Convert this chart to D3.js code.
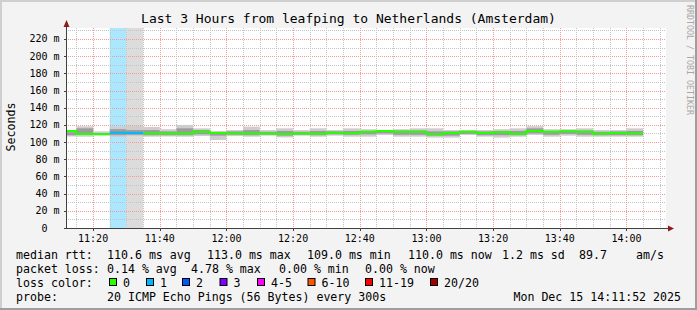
<!DOCTYPE html>
<html>
<head>
<meta charset="utf-8">
<script src="https://cdn.jsdelivr.net/npm/d3@7"></script>
<style>
  html, body { margin: 0; padding: 0; background: #f3f3f3; }
  svg text { font-family: "DejaVu Sans Mono", monospace; fill: #000; }
</style>
</head>
<body>
<svg id="svg-smoke" width="697" height="310"></svg>
<script>
// ---- data ----
var title = "Last 3 Hours from leafping to Netherlands (Amsterdam)";
var yLabel = "Seconds";
var rangeStart = new Date(2025, 11, 15, 11, 11, 52);
var rangeEnd = new Date(2025, 11, 15, 14, 11, 52);
var firstStep = new Date(2025, 11, 15, 11, 10, 0); // 5 min steps
var stepMinutes = 5;

// median rtt per 5 min step (ms)
var medianMs = [113.0, 109.4, 109.0, 111.0, 110.5, 110.0, 110.0, 110.0, 112.0, 110.6,
                110.0, 110.0, 110.0, 109.5, 110.0, 109.8, 110.8, 110.3, 112.0, 113.0,
                112.0, 112.0, 109.0, 110.5, 112.0, 110.5, 111.5, 109.6, 112.8, 112.0,
                112.7, 112.0, 109.6, 110.5, 110.0];
// outer smoke (min / max ping)
var smokeHi = [114.0, 118.4, 112.5, 118.0, 119.0, 117.6, 115.0, 120.0, 116.0, 113.0,
               114.0, 118.0, 114.0, 116.0, 114.0, 116.0, 114.0, 116.0, 115.0, 114.0,
               115.0, 116.0, 116.0, 114.0, 114.0, 114.0, 115.0, 116.0, 118.5, 115.0,
               115.0, 116.0, 114.0, 114.0, 116.0];
var smokeLo = [106.5, 106.3, 107.8, 106.0, 107.0, 106.3, 106.5, 106.3, 107.0, 102.4,
               107.0, 106.3, 107.5, 105.5, 107.5, 106.3, 107.5, 106.3, 106.3, 108.3,
               106.3, 106.3, 105.2, 105.2, 108.3, 106.3, 105.2, 106.3, 108.3, 106.3,
               107.5, 106.3, 106.3, 106.3, 106.3];
// denser inner smoke
var coreHi = [111.5, 116.0, 110.5, 115.0, 114.0, 114.0, 112.5, 116.0, 114.0, 111.5,
              112.5, 114.0, 112.0, 113.0, 112.0, 113.0, 112.5, 113.0, 113.0, 113.5,
              113.5, 113.5, 112.5, 112.5, 113.0, 112.5, 113.0, 113.0, 116.0, 113.0,
              113.5, 113.5, 112.0, 112.5, 113.0];
var coreLo = [108.0, 108.5, 108.5, 108.0, 108.5, 108.0, 108.0, 108.0, 109.0, 107.5,
              108.5, 108.0, 108.5, 107.5, 108.5, 108.0, 109.0, 108.5, 109.0, 110.0,
              108.5, 108.5, 107.5, 107.5, 109.5, 108.0, 108.0, 108.0, 110.0, 108.5,
              109.5, 108.5, 108.0, 108.0, 108.0];
// lost pings per step (of 20)
var lossCount = [0, 0, 0, 1, 1, 0, 0, 0, 0, 0, 0, 0, 0, 0, 0, 0, 0, 0, 0, 0,
                 0, 0, 0, 0, 0, 0, 0, 0, 0, 0, 0, 0, 0, 0, 0];
var unknownSteps = [4];

var yTicks = [0, 20, 40, 60, 80, 100, 120, 140, 160, 180, 200, 220];
var yMax = 232.8;

var lossLabels = ["0", "1", "2", "3", "4-5", "6-10", "11-19", "20/20"];
var lossUpper = [0, 1, 2, 3, 5, 10, 19, 20];
var lossColors = ["#26ff00", "#00b8ff", "#0059ff", "#7e00ff", "#ff00ff", "#ff5500", "#ff0000", "#a00000"];

var rttStats = ["110.6 ms avg", "113.0 ms max", "109.0 ms min", "110.0 ms now", "1.2 ms sd", "89.7", "am/s"];
var lossStats = ["0.14 % avg", "4.78 % max", "0.00 % min", "0.00 % now"];
var probeText = "20 ICMP Echo Pings (56 Bytes) every 300s";
var stampText = "Mon Dec 15 14:11:52 2025";

// ---- layout ----
var svg = d3.select("#svg-smoke");
var W = 697, H = 310;
var dim = { left: 66, right: 666, top: 28, bottom: 228 };

var xScale = d3.scaleTime().domain([rangeStart, rangeEnd]).range([dim.left, dim.right]);
var yScale = d3.scaleLinear().domain([0, yMax]).range([dim.bottom, dim.top]);

// frame
svg.append("rect").attr("x", 0).attr("y", 0).attr("width", W).attr("height", H).attr("fill", "#f3f3f3");
svg.append("path").attr("d", "M0,0H697V2H2V310H0Z").attr("fill", "#cfcfcf");
svg.append("path").attr("d", "M697,0V310H0V308H695V0Z").attr("fill", "#9e9e9e");

svg.append("text")
   .attr("x", 348.5).attr("y", 23)
   .attr("text-anchor", "middle")
   .style("font-size", "13px")
   .text(title);

svg.append("text")
   .attr("transform", "translate(690,5) rotate(90)")
   .attr("x", 0).attr("y", 3)
   .attr("textLength", 110).attr("lengthAdjust", "spacingAndGlyphs")
   .style("font-size", "9px").style("fill", "#a8a8a8")
   .text("RRDTOOL / TOBI OETIKER");

// canvas
svg.append("rect")
   .attr("x", dim.left).attr("y", dim.top)
   .attr("width", dim.right - dim.left).attr("height", dim.bottom - dim.top)
   .attr("fill", "#ffffff");

svg.append("clipPath").attr("id", "clip")
   .append("rect")
   .attr("x", dim.left).attr("y", dim.top)
   .attr("width", dim.right - dim.left).attr("height", dim.bottom - dim.top);

var steps = medianMs.map(function(m, i) {
  var lossIdx = lossUpper.findIndex(function(u) { return lossCount[i] <= u; });
  return {
    i: i,
    t0: d3.timeMinute.offset(firstStep, stepMinutes * i),
    t1: d3.timeMinute.offset(firstStep, stepMinutes * (i + 1)),
    median: medianMs[i], hi: smokeHi[i], lo: smokeLo[i], chi: coreHi[i], clo: coreLo[i],
    loss: lossCount[i], lossIdx: lossIdx
  };
});

var plot = svg.append("g").attr("clip-path", "url(#clip)");

// loss / unknown background columns
plot.selectAll("rect.lossbg")
    .data(steps.filter(function(d) { return d.loss > 0 && unknownSteps.indexOf(d.i) < 0; }))
    .enter().append("rect")
    .attr("class", "lossbg")
    .attr("x", function(d) { return xScale(d.t0); })
    .attr("width", function(d) { return xScale(d.t1) - xScale(d.t0); })
    .attr("y", dim.top).attr("height", dim.bottom - dim.top)
    .attr("fill", function(d) { return lossColors[d.lossIdx]; })
    .attr("fill-opacity", 0.33);
plot.selectAll("rect.unknown")
    .data(steps.filter(function(d) { return unknownSteps.indexOf(d.i) >= 0; }))
    .enter().append("rect")
    .attr("class", "unknown")
    .attr("x", function(d) { return xScale(d.t0); })
    .attr("width", function(d) { return xScale(d.t1) - xScale(d.t0); })
    .attr("y", dim.top).attr("height", dim.bottom - dim.top)
    .attr("fill", "#dcdcdc");

// grid
var grid = svg.append("g");
var minorY = d3.range(10, 231, 20);
grid.selectAll("line.ymin").data(minorY).enter().append("line")
    .attr("x1", dim.left).attr("x2", dim.right)
    .attr("y1", function(d) { return Math.round(yScale(d)) + 0.5; })
    .attr("y2", function(d) { return Math.round(yScale(d)) + 0.5; })
    .attr("stroke", "#c4c4c4").attr("stroke-dasharray", "1,1");
grid.selectAll("line.ymaj").data(yTicks.slice(1)).enter().append("line")
    .attr("x1", dim.left).attr("x2", dim.right)
    .attr("y1", function(d) { return Math.round(yScale(d)) + 0.5; })
    .attr("y2", function(d) { return Math.round(yScale(d)) + 0.5; })
    .attr("stroke", "#f29a9a").attr("stroke-dasharray", "1,1");

var minorX = d3.timeMinute.every(5).range(rangeStart, rangeEnd);
var majorX = d3.timeMinute.every(20).range(rangeStart, rangeEnd);
grid.selectAll("line.xmin").data(minorX).enter().append("line")
    .attr("x1", function(d) { return Math.round(xScale(d)) + 0.5; })
    .attr("x2", function(d) { return Math.round(xScale(d)) + 0.5; })
    .attr("y1", dim.top).attr("y2", dim.bottom)
    .attr("stroke", "#c4c4c4").attr("stroke-dasharray", "1,1");
grid.selectAll("line.xmaj").data(majorX).enter().append("line")
    .attr("x1", function(d) { return Math.round(xScale(d)) + 0.5; })
    .attr("x2", function(d) { return Math.round(xScale(d)) + 0.5; })
    .attr("y1", dim.top).attr("y2", dim.bottom)
    .attr("stroke", "#f29a9a").attr("stroke-dasharray", "1,1");

// smoke
var smoke = svg.append("g").attr("clip-path", "url(#clip)");
smoke.selectAll("rect.outer").data(steps).enter().append("rect")
     .attr("x", function(d) { return xScale(d.t0); })
     .attr("width", function(d) { return xScale(d.t1) - xScale(d.t0); })
     .attr("y", function(d) { return yScale(d.hi); })
     .attr("height", function(d) { return yScale(d.lo) - yScale(d.hi); })
     .attr("fill", "#cdcdcd");
smoke.selectAll("rect.core").data(steps).enter().append("rect")
     .attr("x", function(d) { return xScale(d.t0); })
     .attr("width", function(d) { return xScale(d.t1) - xScale(d.t0); })
     .attr("y", function(d) { return yScale(d.chi); })
     .attr("height", function(d) { return yScale(d.clo) - yScale(d.chi); })
     .attr("fill", "#9c9c9c");

// median line, one path per loss colour run
var line = d3.line()
    .x(function(d) { return xScale(d.t); })
    .y(function(d) { return yScale(d.v); });
var runs = [];
steps.forEach(function(d) {
  var last = runs[runs.length - 1];
  if (!last || last.lossIdx !== d.lossIdx) { last = { lossIdx: d.lossIdx, pts: [] }; runs.push(last); }
  last.pts.push({ t: d.t0, v: d.median }, { t: d.t1, v: d.median });
});
smoke.selectAll("path.median").data(runs).enter().append("path")
     .attr("d", function(r) { return line(r.pts); })
     .attr("fill", "none")
     .attr("stroke", function(r) { return lossColors[r.lossIdx]; })
     .attr("stroke-width", 2);

// axes
var axisColor = "#404040", arrowColor = "#8f1b1b";
svg.append("line").attr("x1", dim.left + 0.5).attr("x2", dim.left + 0.5)
   .attr("y1", dim.bottom + 1).attr("y2", 24).attr("stroke", axisColor);
svg.append("line").attr("x1", dim.left - 1).attr("x2", 670)
   .attr("y1", dim.bottom + 0.5).attr("y2", dim.bottom + 0.5).attr("stroke", axisColor);
svg.append("path").attr("d", "M63.5,27 L69.5,27 L66.5,20 Z").attr("fill", arrowColor);
svg.append("path").attr("d", "M668,225.5 L668,231.5 L674,228.5 Z").attr("fill", arrowColor);

svg.selectAll("line.ytick").data(yTicks).enter().append("line")
   .attr("x1", dim.left - 2).attr("x2", dim.left)
   .attr("y1", function(d) { return Math.round(yScale(d)) + 0.5; })
   .attr("y2", function(d) { return Math.round(yScale(d)) + 0.5; })
   .attr("stroke", axisColor);
svg.selectAll("line.xtick").data(majorX).enter().append("line")
   .attr("x1", function(d) { return Math.round(xScale(d)) + 0.5; })
   .attr("x2", function(d) { return Math.round(xScale(d)) + 0.5; })
   .attr("y1", dim.bottom).attr("y2", dim.bottom + 3)
   .attr("stroke", axisColor);

svg.selectAll("text.ylab").data(yTicks).enter().append("text")
   .attr("x", function(d) { return d === 0 ? 47.5 : 59.5; })
   .attr("y", function(d) { return yScale(d) + 3.5; })
   .attr("text-anchor", "end")
   .style("font-size", "10px")
   .text(function(d) { return d === 0 ? "0" : d + " m"; });

var fmt = d3.timeFormat("%H:%M");
svg.selectAll("text.xlab").data(majorX).enter().append("text")
   .attr("x", function(d) { return xScale(d); })
   .attr("y", 241.5)
   .attr("text-anchor", "middle")
   .style("font-size", "10px")
   .text(fmt);

svg.append("text")
   .attr("transform", "translate(14.5,127) rotate(-90)")
   .attr("text-anchor", "middle")
   .style("font-size", "11.6px")
   .text(yLabel);

// legend
var fs = "11.6px";
var rows = [258.5, 272.5, 286.5, 300.5];
var legend = svg.append("g").style("font-size", fs);
legend.append("text").attr("x", 16).attr("y", rows[0]).text("median rtt:");
var rttX = [107, 207, 307, 408, 502, 579, 636];
rttStats.forEach(function(s, i) {
  legend.append("text").attr("x", rttX[i]).attr("y", rows[0]).text(s);
});
legend.append("text").attr("x", 16).attr("y", rows[1]).text("packet loss:");
var lossX = [107, 191, 279, 365];
lossStats.forEach(function(s, i) {
  legend.append("text").attr("x", lossX[i]).attr("y", rows[1]).text(s);
});
legend.append("text").attr("x", 16).attr("y", rows[2]).text("loss color:");
var boxX = [109, 146, 182, 219.5, 257, 307.5, 365, 430];
lossLabels.forEach(function(s, i) {
  legend.append("rect").attr("x", boxX[i] + 0.5).attr("y", 278.5)
        .attr("width", 7).attr("height", 7)
        .attr("fill", lossColors[i]).attr("stroke", "#000");
  legend.append("text").attr("x", boxX[i] + 14).attr("y", rows[2]).text(s);
});
legend.append("text").attr("x", 16).attr("y", rows[3]).text("probe:");
legend.append("text").attr("x", 107).attr("y", rows[3]).text(probeText);
legend.append("text").attr("x", 681).attr("y", rows[3]).attr("text-anchor", "end").text(stampText);
</script>
</body>
</html>
